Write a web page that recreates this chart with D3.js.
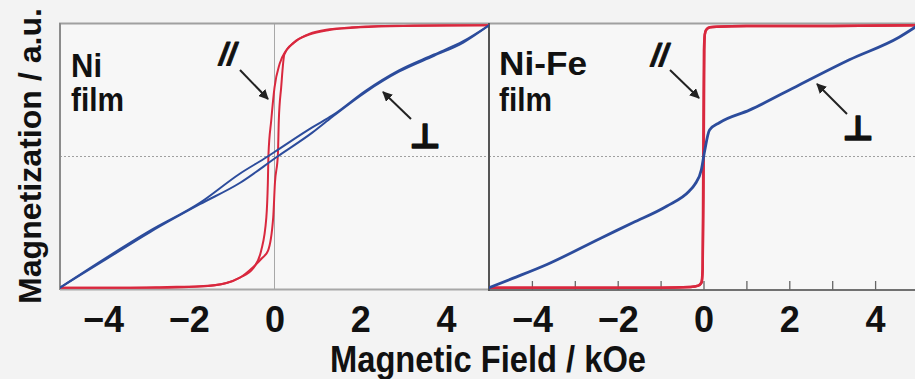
<!DOCTYPE html>
<html>
<head>
<meta charset="utf-8">
<script src="https://cdn.jsdelivr.net/npm/d3@7"></script>
<style>
  html, body { margin: 0; padding: 0; background: #f3f3f3; }
  svg { display: block; }
</style>
</head>
<body>
<script>
// ---- Ni film, in-plane field (//): hysteresis loop branches ----
const niParDownH = [5, 4, 3, 2.5, 1.8, 1.28, 0.81, 0.5, 0.27, 0.12, 0, -0.077, -0.14, -0.155, -0.19, -0.31, -0.5, -0.81, -1.12, -1.74, -2.5, -3.5, -5];
const niParDownM = [0.99, 0.99, 0.987, 0.985, 0.975, 0.96, 0.925, 0.87, 0.80, 0.70, 0.52, 0.27, 0.02, -0.2, -0.46, -0.71, -0.845, -0.915, -0.955, -0.982, -0.99, -0.99, -0.99];
const niParUpH = [-5, -3.5, -2.5, -1.74, -1.12, -0.81, -0.5, -0.3, -0.15, -0.03, 0.01, 0.08, 0.1, 0.155, 0.23, 0.45, 0.81, 1.28, 2, 3, 5];
const niParUpM = [-0.99, -0.99, -0.985, -0.98, -0.955, -0.915, -0.835, -0.77, -0.71, -0.46, -0.2, 0.02, 0.27, 0.52, 0.77, 0.86, 0.92, 0.955, 0.975, 0.985, 0.99];

// ---- Ni film, perpendicular field (⊥) ----
const niPerpDownH = [5, 4.4, 3.72, 2.9, 2.14, 1.35, 0.88, 0.12, -0.16, -0.81, -1.74, -2.9, -4.0, -5];
const niPerpDownM = [0.99, 0.87, 0.77, 0.65, 0.50, 0.31, 0.22, 0.06, 0.0, -0.13, -0.35, -0.56, -0.78, -0.99];
const niPerpUpH = [-5, -4, -2.9, -1.74, -0.81, 0.07, 0.88, 1.35, 2.14, 2.9, 3.72, 4.4, 5];
const niPerpUpM = [-0.99, -0.79, -0.57, -0.36, -0.2, 0.0, 0.18, 0.30, 0.49, 0.64, 0.76, 0.86, 0.99];

// ---- Ni-Fe film, in-plane field (//) ----
const feParUpH = [-5, -3, -1, -0.3, -0.12, -0.05, -0.02, 0, 0.01, 0.02, 0.03, 0.06, 0.15, 0.3, 1, 3, 5];
const feParUpM = [-0.99, -0.99, -0.99, -0.985, -0.975, -0.95, -0.85, -0.3, 0.3, 0.8, 0.92, 0.955, 0.975, 0.98, 0.985, 0.985, 0.99];
const feParDownH = [5, 3, 1, 0.3, 0.15, 0.06, 0.03, 0.01, 0, -0.01, -0.02, -0.04, -0.12, -0.3, -1, -3, -5];
const feParDownM = [0.99, 0.985, 0.985, 0.98, 0.975, 0.955, 0.92, 0.8, 0.3, -0.3, -0.85, -0.95, -0.975, -0.985, -0.99, -0.99, -0.99];

// ---- Ni-Fe film, perpendicular field (⊥) ----
const fePerpH = [-5, -4.45, -3.65, -2.42, -1.65, -0.86, -0.33, -0.2, -0.05, 0.02, 0.14, 0.37, 1.07, 2.23, 3.4, 4.56, 5];
const fePerpM = [-0.99, -0.92, -0.815, -0.62, -0.5, -0.375, -0.26, -0.21, -0.1, 0.03, 0.2, 0.255, 0.35, 0.54, 0.73, 0.9, 0.99];

// axis ticks
const fieldTicks = [-4, -2, 0, 2, 4];
const minorTicks = [-4, -3, -2, -1, 0, 1, 2, 3, 4];

const W = 915, H = 379;
const RED = "#d9283e", BLUE = "#2c4c9c";

const svg = d3.select("body").append("svg").attr("width", W).attr("height", H);
svg.append("rect").attr("width", W).attr("height", H).attr("fill", "#f3f3f3");

const y = d3.scaleLinear().domain([-1, 1]).range([289, 24]);
const xL = d3.scaleLinear().domain([-5, 5]).range([60, 489]);
const xR = d3.scaleLinear().domain([-5, 5]).range([489, 918]);

// plot backgrounds
svg.append("rect").attr("x", 60).attr("y", 24).attr("width", 429).attr("height", 265).attr("fill", "#f7f7f7");
svg.append("rect").attr("x", 489).attr("y", 24).attr("width", 430).attr("height", 266).attr("fill", "#f7f7f7");

// clip regions
const defs = svg.append("defs");
defs.append("clipPath").attr("id", "clipL").append("rect").attr("x", 60).attr("y", 20).attr("width", 429).attr("height", 272);
defs.append("clipPath").attr("id", "clipR").append("rect").attr("x", 489).attr("y", 20).attr("width", 430).attr("height", 272);
defs.append("marker").attr("id", "arrow").attr("viewBox", "0 0 10 10").attr("refX", 9).attr("refY", 5)
  .attr("markerWidth", 5).attr("markerHeight", 5).attr("markerUnits", "strokeWidth").attr("orient", "auto")
  .append("path").attr("d", "M0,0 L10,5 L0,10 z").attr("fill", "#222");

// grid lines: zero field (left panel) and zero magnetization (both)
svg.append("line").attr("x1", xL(0)).attr("x2", xL(0)).attr("y1", y(1)).attr("y2", y(-1))
  .attr("stroke", "#a8a8a8").attr("stroke-width", 1);
svg.append("line").attr("x1", 60).attr("x2", 489).attr("y1", y(0)).attr("y2", y(0))
  .attr("stroke", "#a0a0a0").attr("stroke-width", 1.2).attr("stroke-dasharray", "2,2");
svg.append("line").attr("x1", 489).attr("x2", W).attr("y1", y(0)).attr("y2", y(0))
  .attr("stroke", "#a0a0a0").attr("stroke-width", 1.2).attr("stroke-dasharray", "2,2");

// frames
svg.append("line").attr("x1", 59).attr("x2", W).attr("y1", 23.5).attr("y2", 23.5).attr("stroke", "#a0a0a0").attr("stroke-width", 2);
svg.append("line").attr("x1", 60).attr("x2", 60).attr("y1", 23).attr("y2", 290).attr("stroke", "#8c8c8c").attr("stroke-width", 2);
svg.append("line").attr("x1", 60).attr("x2", 489).attr("y1", 289.5).attr("y2", 289.5).attr("stroke", "#a8a8a8").attr("stroke-width", 2);
svg.append("line").attr("x1", 489).attr("x2", W).attr("y1", 290).attr("y2", 290).attr("stroke", "#444").attr("stroke-width", 1.5);
svg.append("line").attr("x1", 489).attr("x2", 489).attr("y1", 23).attr("y2", 291).attr("stroke", "#555").attr("stroke-width", 2);

// right panel minor ticks (pointing inward)
svg.append("g").attr("transform", "translate(0,290)")
  .call(d3.axisBottom(xR).tickValues(minorTicks).tickSize(-9).tickFormat(""))
  .call(g => g.select(".domain").remove())
  .call(g => g.selectAll(".tick line").attr("stroke", "#666").attr("stroke-width", 1.3));

// tick labels
function labelAxis(scale, ty) {
  svg.append("g").attr("transform", `translate(0,${ty})`)
    .call(d3.axisBottom(scale).tickValues(fieldTicks).tickSize(0).tickFormat(d3.format("d")))
    .call(g => g.select(".domain").remove())
    .call(g => g.selectAll(".tick text")
      .attr("y", 43).attr("dy", 0)
      .attr("fill", "#111")
      .style("font-family", "'Liberation Sans', Arial, sans-serif")
      .style("font-weight", 700)
      .style("font-size", "36px"));
}
labelAxis(xL, 289);
labelAxis(xR, 289);

// curves
const lineFor = sx => d3.line().x(d => sx(d[0])).y(d => y(d[1])).curve(d3.curveMonotoneX);
const gL = svg.append("g").attr("clip-path", "url(#clipL)");
const gR = svg.append("g").attr("clip-path", "url(#clipR)");

function branch(g, sx, hs, ms, color, w) {
  g.append("path").datum(d3.zip(hs, ms)).attr("d", lineFor(sx))
    .attr("fill", "none").attr("stroke", color).attr("stroke-width", w)
    .attr("stroke-linejoin", "round").attr("stroke-linecap", "round");
}
branch(gL, xL, niParDownH, niParDownM, RED, 2);
branch(gL, xL, niParUpH, niParUpM, RED, 2);
branch(gL, xL, niPerpDownH, niPerpDownM, BLUE, 2);
branch(gL, xL, niPerpUpH, niPerpUpM, BLUE, 2);

branch(gR, xR, feParDownH, feParDownM, RED, 2.5);
branch(gR, xR, feParUpH, feParUpM, RED, 2.5);
branch(gR, xR, fePerpH, fePerpM, BLUE, 2.8);

// annotation text
const txt = (x, yy, s, size, opts = {}) => {
  const t = svg.append("text").attr("x", x).attr("y", yy).text(s)
    .attr("fill", "#111")
    .style("font-family", opts.family || "'Liberation Sans', Arial, sans-serif")
    .style("font-weight", 700)
    .style("font-size", size + "px");
  if (opts.italic) t.style("font-style", "italic");
  if (opts.anchor) t.attr("text-anchor", opts.anchor);
  if (opts.len) t.attr("textLength", opts.len).attr("lengthAdjust", "spacingAndGlyphs");
  if (opts.thick) t.attr("stroke", "#111").attr("stroke-width", opts.thick).attr("stroke-linejoin", "round");
  return t;
};

txt(71, 77, "Ni", 33, { len: 31 });
txt(71, 111, "film", 33, { len: 53 });
txt(499, 75, "Ni-Fe", 33, { len: 88 });
txt(499, 111, "film", 33, { len: 53 });

txt(219, 65, "//", 31, { italic: true, thick: 0.8 });
txt(651, 66, "//", 31, { italic: true, thick: 0.8 });
txt(425, 148, "⊥", 34, { anchor: "middle", family: "'DejaVu Sans', sans-serif", thick: 1.6 });
txt(858, 140, "⊥", 34, { anchor: "middle", family: "'DejaVu Sans', sans-serif", thick: 1.6 });

// arrows
const arrow = (x1, y1, x2, y2) => svg.append("line")
  .attr("x1", x1).attr("y1", y1).attr("x2", x2).attr("y2", y2)
  .attr("stroke", "#222").attr("stroke-width", 2).attr("marker-end", "url(#arrow)");
arrow(240, 70, 268, 99);
arrow(670, 70, 699, 98);
arrow(411, 119, 383, 92);
arrow(847, 114, 817, 84);

// axis titles
txt(330, 372, "Magnetic Field / kOe", 36, { len: 316 });
svg.append("text").attr("transform", "translate(41,304) rotate(-90)")
  .text("Magnetization / a.u.")
  .attr("fill", "#111")
  .attr("textLength", 296).attr("lengthAdjust", "spacingAndGlyphs")
  .style("font-family", "'Liberation Sans', Arial, sans-serif")
  .style("font-weight", 700)
  .style("font-size", "32px");
</script>
</body>
</html>
